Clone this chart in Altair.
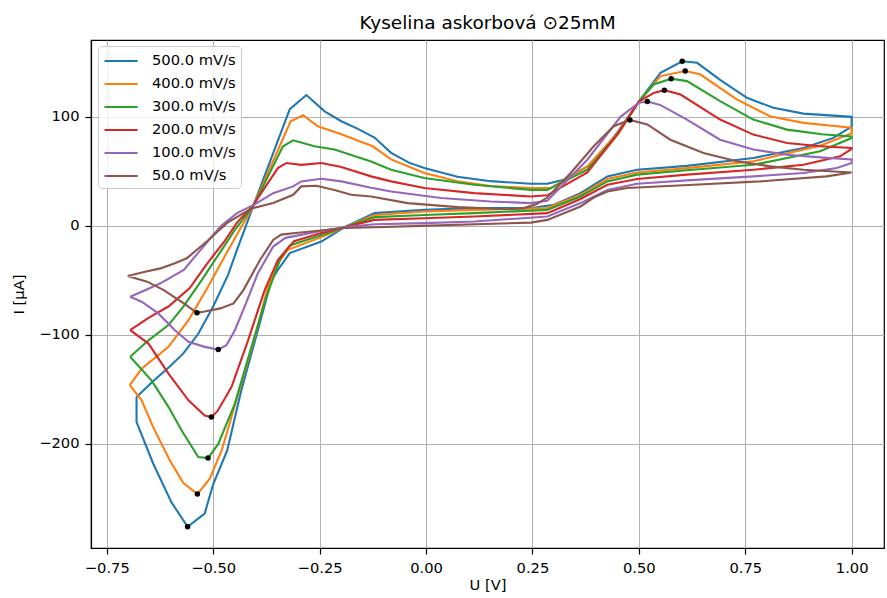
import altair as alt
import pandas as pd

# ---------------- data ----------------
series = ["500.0 mV/s", "400.0 mV/s", "300.0 mV/s", "200.0 mV/s", "100.0 mV/s", "50.0 mV/s"]
colors = ["#1f77b4", "#ff7f0e", "#2ca02c", "#d62728", "#9467bd", "#8c564b"]

# 500 mV/s
U_up_500 = [-0.680, -0.640, -0.602, -0.570, -0.535, -0.500, -0.465, -0.444, -0.406, -0.320, -0.281, -0.238, -0.199, -0.160,
            -0.121, -0.082, -0.040, -0.004, 0.074, 0.152, 0.246, 0.285, 0.324, 0.394, 0.450, 0.500, 0.551, 0.602, 0.637,
            0.691, 0.754, 0.816, 0.887, 1.000]
I_up_500 = [-157, -142, -129, -117, -99, -74, -45, -22, 18, 107, 120, 105, 96, 89,
            81, 67, 58, 53, 45, 41, 38.6, 38.6, 42.3, 57.7, 86, 114, 140.5, 151, 149.6,
            134, 117.5, 108.3, 103, 100]
U_dn_500 = [1.000, 0.957, 0.887, 0.769, 0.613, 0.496, 0.426, 0.363, 0.301, 0.246, 0.113, -0.004, -0.121, -0.190,
            -0.246, -0.320, -0.348, -0.363, -0.395, -0.434, -0.467, -0.500, -0.520, -0.560, -0.598, -0.641, -0.680]
I_dn_500 = [91, 80.7, 71.5, 62.3, 55, 51.5, 45.4, 30, 19.3, 16.3, 16.3, 14.7, 11.7, -1,
            -14.4, -25, -40.5, -49.7, -95.7, -151, -206, -237, -264, -276, -253.6, -218, -180]

# 400 mV/s
U_up_400 = [-0.696, -0.668, -0.605, -0.558, -0.512, -0.473, -0.438, -0.406, -0.318, -0.289, -0.254, -0.199, -0.125,
            -0.082, -0.004, 0.074, 0.152, 0.246, 0.293, 0.379, 0.450, 0.500, 0.551, 0.609, 0.644, 0.730, 0.808, 0.887, 1.000]
I_up_400 = [-146, -131, -111, -86.5, -55.8, -28, -3.7, 18, 96, 101.5, 91.4, 84, 73,
            61, 48.5, 41, 36.5, 34.7, 34.7, 54.6, 85, 114, 137.4, 142, 139, 116, 100.6, 94.5, 90]
U_dn_400 = [1.000, 0.926, 0.769, 0.613, 0.496, 0.426, 0.363, 0.285, 0.113, -0.004, -0.121, -0.190, -0.250, -0.325,
            -0.345, -0.371, -0.402, -0.441, -0.480, -0.508, -0.537, -0.570, -0.602, -0.641, -0.668, -0.696]
I_dn_400 = [85, 73.6, 59.2, 53, 49, 43, 28.5, 16.3, 14.7, 13.2, 10, -1, -11, -22,
            -33, -55.8, -101.8, -154, -206, -232, -246, -236, -215, -184.6, -160, -146]

# 300 mV/s
U_up_300 = [-0.695, -0.652, -0.605, -0.570, -0.527, -0.480, -0.449, -0.406, -0.336, -0.312, -0.262, -0.215, -0.129,
            -0.082, -0.004, 0.113, 0.246, 0.285, 0.379, 0.450, 0.500, 0.535, 0.576, 0.613, 0.691, 0.769, 0.848, 0.930, 1.000]
I_up_300 = [-120, -105, -91, -74, -49.7, -22, -3.7, 18, 73, 78.5, 73, 70, 59,
            51.5, 43.9, 37.7, 33, 33, 51.5, 84, 114, 129.7, 135, 132.8, 114.4, 97.5, 88.3, 84, 82]
U_dn_300 = [1.000, 0.926, 0.769, 0.613, 0.496, 0.426, 0.363, 0.285, 0.113, -0.004, -0.121, -0.190, -0.250, -0.320,
            -0.342, -0.375, -0.410, -0.449, -0.488, -0.512, -0.535, -0.574, -0.605, -0.645, -0.695]
I_dn_300 = [80.6, 68.4, 56, 51, 47, 40.8, 27, 14.7, 11.7, 10, 8, -1, -9, -18,
            -30, -65, -111, -163, -200, -213, -212, -187.7, -166, -141.7, -120]

# 200 mV/s
U_up_200 = [-0.695, -0.650, -0.605, -0.555, -0.515, -0.475, -0.444, -0.406, -0.348, -0.328, -0.293, -0.246, -0.199,
            -0.129, -0.082, -0.004, 0.113, 0.246, 0.285, 0.379, 0.450, 0.500, 0.535, 0.560, 0.598, 0.691, 0.769, 0.848,
            0.926, 1.000]
I_up_200 = [-95.7, -84, -74, -57, -35, -15, 3, 19, 53, 57.7, 56, 57.7, 54,
            45.4, 40.8, 34.7, 30, 27, 28, 49, 84, 114, 122, 124.5, 120.5, 97.5, 83.7, 76,
            73, 71.5]
U_dn_200 = [1.000, 0.973, 0.887, 0.769, 0.613, 0.496, 0.426, 0.363, 0.285, 0.113, -0.004, -0.121, -0.190, -0.250,
            -0.310, -0.348, -0.379, -0.418, -0.457, -0.490, -0.504, -0.520, -0.558, -0.605, -0.652, -0.695]
I_dn_200 = [70.6, 63.8, 56, 51.5, 47, 43, 37.7, 24.6, 11.7, 8.6, 7, 5.5, -1, -7,
            -14, -31.3, -58.9, -105, -147.8, -170, -175.4, -174, -160, -135.5, -108, -95.7]

# 100 mV/s
U_up_100 = [-0.695, -0.660, -0.624, -0.569, -0.523, -0.483, -0.444, -0.406, -0.359, -0.312, -0.293, -0.246, -0.199,
            -0.129, -0.082, 0.035, 0.152, 0.246, 0.285, 0.379, 0.457, 0.500, 0.520, 0.550, 0.613, 0.691, 0.769, 0.848,
            0.926, 1.000]
I_up_100 = [-65, -59, -52.7, -40.5, -19, -0.6, 11.7, 19, 30, 36.2, 40.8, 43.2, 40.8,
            35, 31.6, 25.5, 22.4, 20.9, 23, 60.7, 100, 113, 114, 111, 97.5, 79, 70, 65.3,
            62.8, 61]
U_dn_100 = [1.000, 0.965, 0.887, 0.769, 0.613, 0.496, 0.426, 0.363, 0.285, 0.113, -0.004, -0.121, -0.190, -0.250,
            -0.330, -0.359, -0.395, -0.426, -0.449, -0.469, -0.488, -0.520, -0.558, -0.590, -0.629, -0.668, -0.695]
I_dn_100 = [57.7, 53, 48.5, 45.4, 41.7, 38.6, 33, 20.9, 8.6, 4, 2.5, 1.5, -1, -5,
            -11, -19, -43.5, -74, -95.7, -109.5, -113.5, -111, -106.4, -95.7, -80.3, -69.6, -65]

# 50 mV/s
U_up_50 = [-0.701, -0.660, -0.624, -0.590, -0.562, -0.515, -0.468, -0.429, -0.406, -0.359, -0.312, -0.293, -0.258,
           -0.215, -0.176, -0.129, -0.043, 0.074, 0.191, 0.230, 0.260, 0.285, 0.340, 0.394, 0.441, 0.479, 0.520, 0.574,
           0.652, 0.730, 0.809, 0.887, 1.000]
I_up_50 = [-46, -42, -39, -34.3, -29.7, -14.4, 2.5, 11.7, 16.3, 20.9, 28.5, 36.2, 36.8,
           33, 28.5, 27, 20.9, 17.2, 15.3, 16.3, 20, 26, 48.5, 73, 91.4, 97.2, 93, 79,
           66.9, 59.2, 54.6, 51.5, 49]
U_dn_50 = [1.000, 0.941, 0.785, 0.629, 0.473, 0.426, 0.394, 0.363, 0.285, 0.246, -0.012, -0.121, -0.190, -0.312,
           -0.340, -0.359, -0.390, -0.429, -0.452, -0.483, -0.523, -0.538, -0.569, -0.616, -0.655, -0.701]
I_dn_50 = [49, 45.4, 40.8, 37.7, 34.7, 31.6, 26, 17.8, 5.5, 3, 0, -1.2, -2, -6.7,
           -8, -12.9, -31.3, -58.9, -71.1, -75.7, -78.8, -79.8, -71.1, -58.9, -51.2, -46]

# peak markers
anodic_U = [0.602, 0.609, 0.576, 0.560, 0.520, 0.479]
anodic_I = [151, 142, 135, 124.5, 114, 97.2]
cathodic_U = [-0.560, -0.537, -0.512, -0.504, -0.488, -0.538]
cathodic_I = [-276, -246, -213, -175.4, -113.5, -79.8]

x_ticks = [-0.75, -0.50, -0.25, 0.0, 0.25, 0.50, 0.75, 1.00]
y_ticks = [-200, -100, 0, 100]

# ---------------- build tables ----------------
curves = [
    (U_up_500, I_up_500, U_dn_500, I_dn_500),
    (U_up_400, I_up_400, U_dn_400, I_dn_400),
    (U_up_300, I_up_300, U_dn_300, I_dn_300),
    (U_up_200, I_up_200, U_dn_200, I_dn_200),
    (U_up_100, I_up_100, U_dn_100, I_dn_100),
    (U_up_50, I_up_50, U_dn_50, I_dn_50),
]
rows = []
for name, (uu, iu, ud, idn) in zip(series, curves):
    # closed loop: anodic sweep, cathodic sweep, back to the start
    U_loop = uu + ud + uu[:1]
    I_loop = iu + idn + iu[:1]
    for k, (u, i) in enumerate(zip(U_loop, I_loop)):
        rows.append({"series": name, "U": u, "I": i, "k": k})
df = pd.DataFrame(rows)

dots_df = pd.DataFrame({"U": anodic_U + cathodic_U, "I": anodic_I + cathodic_I})

FONT = "DejaVu Sans"
x_scale = alt.Scale(domain=[-0.787, 1.076], nice=False, zero=False)
y_scale = alt.Scale(domain=[-295.5, 170.5], nice=False, zero=False)

lines = alt.Chart(df).mark_line(strokeWidth=2.1, clip=True).encode(
    x=alt.X("U:Q", scale=x_scale,
            axis=alt.Axis(values=x_ticks, format=".2f", title="U [V]", titlePadding=3)),
    y=alt.Y("I:Q", scale=y_scale,
            axis=alt.Axis(values=y_ticks, format="d", title="I [μA]", titlePadding=12)),
    color=alt.Color("series:N", scale=alt.Scale(domain=series, range=colors), title=None,
                    legend=alt.Legend(orient="none", legendX=7, legendY=6, padding=5,
                                      strokeColor="#cccccc", fillColor="rgba(255,255,255,0.8)",
                                      cornerRadius=4, labelFontSize=14.7, labelFont=FONT,
                                      labelColor="black", symbolType="M-1,0H2.9", symbolSize=289,
                                      symbolStrokeWidth=2.1, rowPadding=6, labelOffset=29)),
    order=alt.Order("k:Q"),
)

dots = alt.Chart(dots_df).mark_circle(color="black", size=30, opacity=1).encode(
    x=alt.X("U:Q", scale=x_scale),
    y=alt.Y("I:Q", scale=y_scale),
)

chart = alt.layer(lines, dots).properties(
    width=793,
    height=508,
    title=alt.TitleParams("Kyselina askorbová ⊙25mM", fontSize=18.5, font=FONT, fontWeight="normal",
                          color="black", offset=8, anchor="middle"),
    padding={"left": 91, "top": 40, "right": 3, "bottom": 50},
    autosize=alt.AutoSizeParams(type="none"),
).configure_view(
    stroke="black", strokeWidth=1.2
).configure_axis(
    domainColor="black", domainWidth=1.2, tickColor="black", tickWidth=1.2, tickSize=6,
    labelFont=FONT, labelFontSize=14.7, labelColor="black", labelPadding=6,
    titleFont=FONT, titleFontSize=14.7, titleFontWeight="normal", titleColor="black",
    gridColor="#b0b0b0", gridWidth=1, labelFlush=False, labelOverlap=False,
)

chart.save("out.html", embed_options={"renderer": "svg", "actions": False})
